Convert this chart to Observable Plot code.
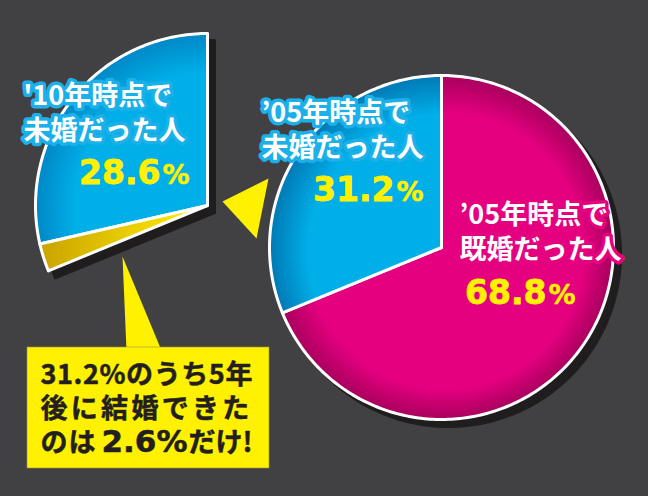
<!DOCTYPE html>
<html><head><meta charset="utf-8">
<script src="https://cdn.jsdelivr.net/npm/d3@7"></script>
<script src="https://cdn.jsdelivr.net/npm/@observablehq/plot@0.6"></script>
<style>
html,body{margin:0;padding:0;background:#414042;}
svg{display:block;}
</style></head><body><div id="chart"></div>
<script>
// ---- data ----
const status05 = ["既婚", "未婚"];                 // status in 2005
const share05 = [68.8, 31.2];                        // %
const status10 = ["5年後に結婚", "'10年も未婚"];     // breakdown of the 2005 unmarried share
const share10 = [2.6, 28.6];                         // %
const labels05 = ["’05年時点で\n既婚だった人", "’05年時点で\n未婚だった人"];
const labels10 = ["'10年時点で\n未婚だった人"];
const callout = ["31.2%のうち5年", "後に結婚できた", "のは", "2.6%", "だけ!"];

// ---- layout ----
const W = 648, H = 496;
const R = 172;
const mainC = {x: 441, y: 247};
const zoomC = {x: 207, y: 205};
const BG = "#414042";
const CYAN = "#00aee8", MAG = "#e5007f", YEL = "#fff100", INK = "#231f20";

function sector(c, r, a0, a1, key) {
  const pts = [{x: c.x, y: c.y, key}];
  const n = Math.max(4, Math.ceil((a1 - a0) / (Math.PI / 180)));
  for (let i = 0; i <= n; i++) {
    const a = a0 + (a1 - a0) * i / n;
    pts.push({x: c.x + r * Math.sin(a), y: c.y - r * Math.cos(a), key});
  }
  pts.push({x: c.x, y: c.y, key});
  return pts;
}

const pie = d3.pie().sort(null).value(d => d);
const arcs05 = pie(share05);
const arcsZoom = pie([share05[0], ...share10]);   // first arc (married) not drawn

const magPts = sector(mainC, R, arcs05[0].startAngle, arcs05[0].endAngle, status05[0]);
const cyaPts = sector(mainC, R, arcs05[1].startAngle, arcs05[1].endAngle, status05[1]);
const yelPts = sector(zoomC, R, arcsZoom[1].startAngle, arcsZoom[1].endAngle, status10[0]);
const zcyPts = sector(zoomC, R, arcsZoom[2].startAngle, arcsZoom[2].endAngle, status10[1]);

const fmt = d3.format(".1f");
const slice = (pts, fill) => Plot.line(pts, {x: "x", y: "y", z: "key", fill, stroke: "white", strokeWidth: 3, strokeLinejoin: "round"});
const shadow = (pts) => Plot.line(pts, {x: "x", y: "y", z: "key", fill: "#1f1d1e", stroke: "#1f1d1e", strokeWidth: 3, dx: 7, dy: 7});

// annotation shapes
const midTri = [{x: 222, y: 201}, {x: 268, y: 178}, {x: 256, y: 238}, {x: 222, y: 201}];
const pointer = [{x: 122, y: 256}, {x: 126, y: 350}, {x: 161, y: 350}, {x: 122, y: 256}];

const jp = "Noto Sans CJK JP";
const num = "DejaVu Sans";

function numLabel(v, xEnd, yBase, size, pctSize) {
  return [
    Plot.text([fmt(v)], {x: () => xEnd, y: () => yBase, text: d => d, textAnchor: "end", lineAnchor: "bottom",
      fontFamily: num, fontWeight: "bold", fontSize: size, fill: YEL, stroke: YEL, strokeWidth: 0.8}),
    Plot.text(["%"], {x: () => xEnd + 2, y: () => yBase, text: d => d, textAnchor: "start", lineAnchor: "bottom",
      fontFamily: num, fontWeight: "bold", fontSize: pctSize, fill: YEL, stroke: YEL, strokeWidth: 0.5})
  ];
}
function jpLabel(t, x, y, halo) {
  return Plot.text([t], {x: () => x, y: () => y, text: d => d, textAnchor: "start", lineAnchor: "middle",
    lineHeight: 1.28, fontFamily: jp, fontWeight: "bold", fontSize: 27, fill: "white",
    stroke: halo, strokeWidth: 7, strokeLinejoin: "round", paintOrder: "stroke"});
}
function boxText(t, x, yBase, size, family) {
  return Plot.text([t], {x: () => x, y: () => yBase, text: d => d, textAnchor: "start", lineAnchor: "bottom",
    fontFamily: family, fontWeight: "bold", fontSize: size, fill: INK, stroke: INK, strokeWidth: 0.5});
}

const svg = Plot.plot({
  width: W, height: H, margin: 0,
  x: {domain: [0, W], range: [0, W], axis: null},
  y: {domain: [0, H], range: [0, H], axis: null},
  style: {background: BG},
  marks: [
    shadow(magPts), shadow(cyaPts), shadow(yelPts), shadow(zcyPts),
    slice(magPts, "url(#gMag)"),
    slice(cyaPts, "url(#gCya)"),
    slice(zcyPts, "url(#gZcy)"),
    slice(yelPts, "url(#gYel)"),
    Plot.line(midTri, {x: "x", y: "y", fill: YEL, stroke: "none"}),
    Plot.line(pointer, {x: "x", y: "y", fill: YEL, stroke: "none"}),
    Plot.rect([0], {x1: () => 27, x2: () => 269, y1: () => 347, y2: () => 468, fill: YEL, stroke: "#9a9440", strokeWidth: 0.6}),
    jpLabel(labels10[0], 23, 111, "#1cb0e9"),
    jpLabel(labels05[1], 261, 128, "#1cb0e9"),
    jpLabel(labels05[0], 459, 230, "#e5007f"),
    ...numLabel(share10[1], 160, 183, 33, 27),
    ...numLabel(share05[1], 394, 200, 33, 27),
    ...numLabel(share05[0], 546, 303, 33, 27),
    boxText(callout[0], 40, 383, 27, jp),
    boxText(callout[1], 40, 417, 27, jp),
    boxText(callout[2], 40, 451, 27, jp),
    boxText(callout[3], 101, 451, 31, num),
    boxText(callout[4], 188, 451, 27, jp)
  ]
});

// gradients for the shaded slices
const defs = d3.select(svg).insert("defs", ":first-child");
function radial(id, c, stops) {
  const g = defs.append("radialGradient").attr("id", id).attr("gradientUnits", "userSpaceOnUse")
    .attr("cx", c.x).attr("cy", c.y).attr("r", R).attr("fx", c.x + 20).attr("fy", c.y + 20);
  stops.forEach(([o, col]) => g.append("stop").attr("offset", o).attr("stop-color", col));
}
radial("gMag", mainC, [[0, MAG], [0.8, MAG], [1, "#a8005e"]]);
radial("gCya", mainC, [[0, CYAN], [0.8, CYAN], [1, "#0079b4"]]);
radial("gZcy", zoomC, [[0, CYAN], [0.8, CYAN], [1, "#0088c6"]]);
const ly = defs.append("linearGradient").attr("id", "gYel").attr("gradientUnits", "userSpaceOnUse")
  .attr("x1", 40).attr("y1", 0).attr("x2", 190).attr("y2", 0);
ly.append("stop").attr("offset", 0).attr("stop-color", "#c9a400");
ly.append("stop").attr("offset", 1).attr("stop-color", "#ffea00");

// letter spacing for the callout lines
const spacingByText = new Map([[callout[0], 0.6], [callout[1], 3.3], [callout[2], 1]]);
d3.select(svg).selectAll("text").each(function() {
  const v = spacingByText.get(this.textContent);
  if (v != null) this.style.letterSpacing = v + "px";
});

document.getElementById("chart").append(svg);
</script></body></html>
